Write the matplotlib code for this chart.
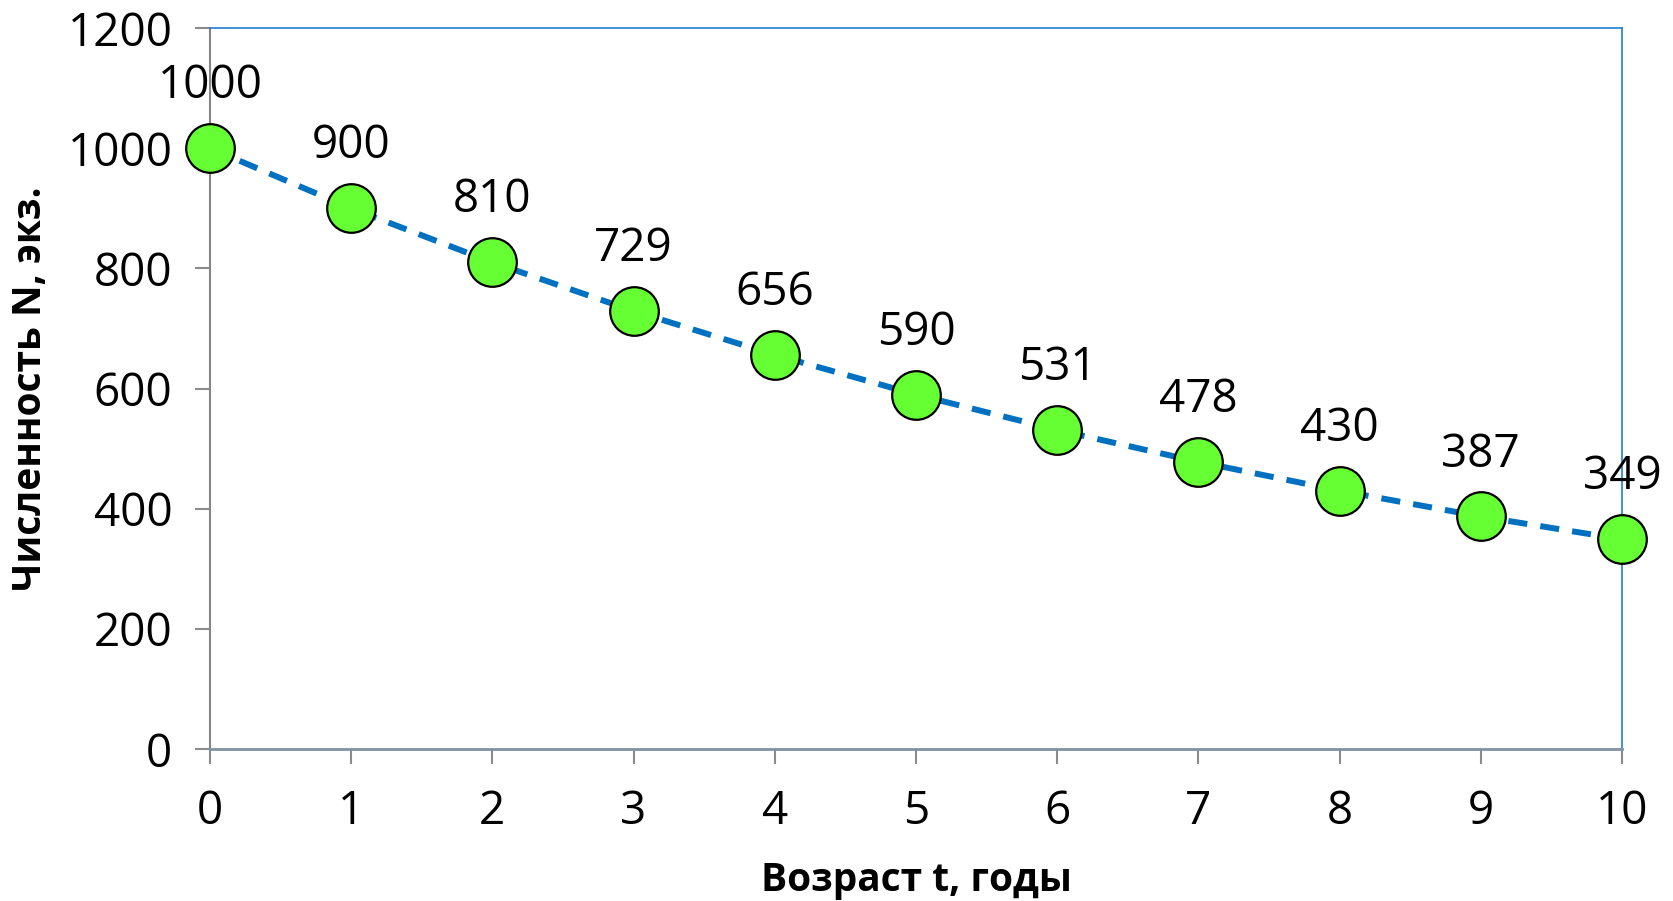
import matplotlib.pyplot as plt

# age (years) and population size
ages = [0, 1, 2, 3, 4, 5, 6, 7, 8, 9, 10]
counts = [1000, 900, 810, 729, 656, 590, 531, 478, 430, 387, 349]

x_label = "Возраст t, годы"
y_label = "Численность N, экз."

plt.rcParams['font.family'] = ['Open Sans', 'DejaVu Sans']

fig = plt.figure(figsize=(16.73, 9.01), dpi=100)
ax = fig.add_axes([0.1255, 0.1687, 0.8440, 0.8002])

ax.plot(ages, counts, color='#0070c0', lw=4.3, ls=(0, (3.2, 2.2)),
        marker='o', ms=35, mfc='#66ff33', mec='black', mew=1.6,
        zorder=3, clip_on=False)

for t, n in zip(ages, counts):
    ax.annotate(str(n), (t, n), xytext=(0, 28), textcoords='offset points',
                ha='center', va='bottom', fontsize=33, color='black')

ax.set_xlim(0, 10)
ax.set_ylim(0, 1200)
ax.set_xticks(ages)
ax.set_yticks(range(0, 1201, 200))

for side in ('top', 'right'):
    ax.spines[side].set_color('#1f7fd0')
    ax.spines[side].set_linewidth(1.2)
ax.spines['left'].set_color('#858585')
ax.spines['left'].set_linewidth(1.5)
ax.spines['bottom'].set_color('#7f93a3')
ax.spines['bottom'].set_linewidth(2)

ax.tick_params(axis='both', direction='out', length=11, width=1.5,
               color='#8c8c8c', labelsize=33)
ax.tick_params(axis='x', pad=18)
ax.tick_params(axis='y', pad=16)

ax.set_xlabel(x_label, fontsize=28, fontweight='bold')
ax.set_ylabel(y_label, fontsize=28, fontweight='bold')
ax.xaxis.set_label_coords(0.5, -0.155)
ax.yaxis.set_label_coords(-0.113, 0.5)

fig.savefig('out.png', dpi=100)
